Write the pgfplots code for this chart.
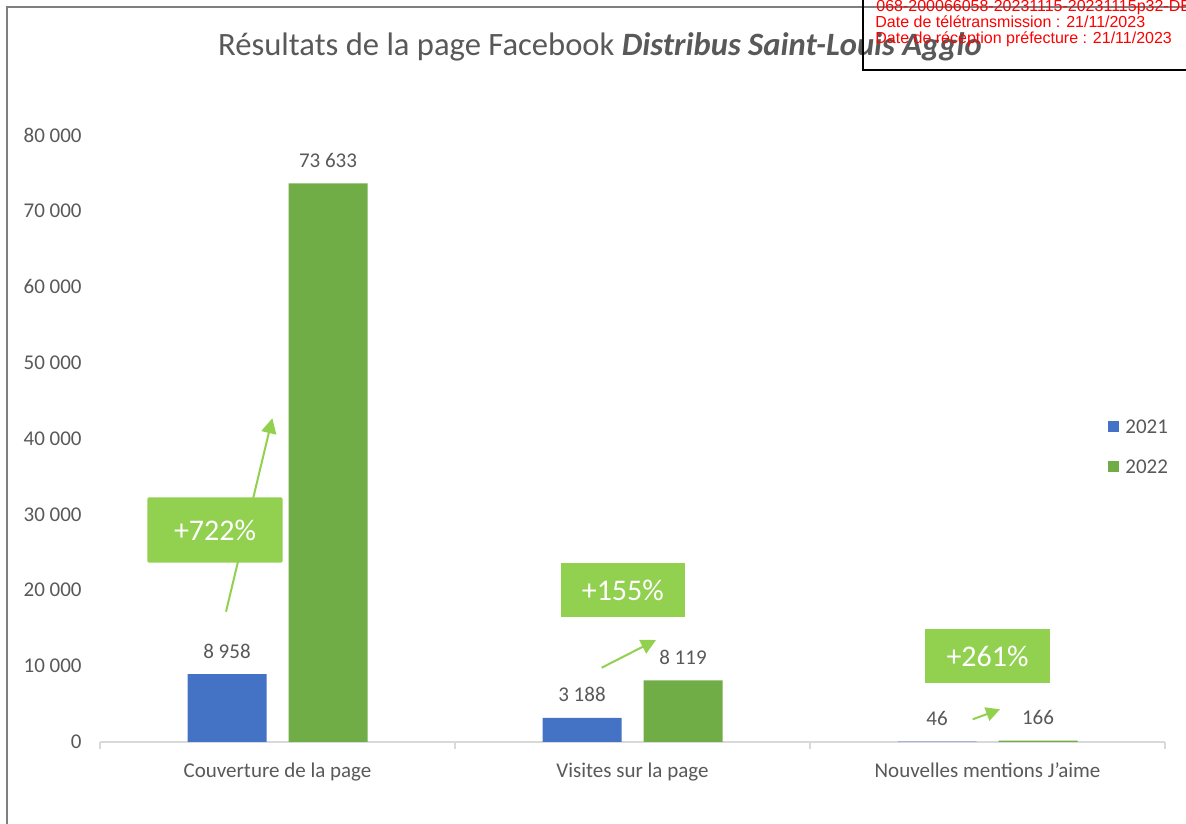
\documentclass[border=0pt]{standalone}
\usepackage{fontspec}
\setmainfont{Carlito}
\newfontfamily\stampfont{Liberation Sans}
\usepackage{pgfplots}
\pgfplotsset{compat=1.18}
\usetikzlibrary{arrows.meta}
\definecolor{c2021}{HTML}{4472C4}
\definecolor{c2022}{HTML}{70AD47}
\definecolor{boxgreen}{HTML}{92D050}
\definecolor{txtgray}{HTML}{595959}
\definecolor{axgray}{HTML}{D9D9D9}
\definecolor{bordergray}{HTML}{7F7F7F}
\definecolor{stampred}{HTML}{FF0000}
\begin{document}
\begin{tikzpicture}
\path[use as bounding box] (0,0) rectangle (593pt,411.5pt);
\fill[white] (0,0) rectangle (593pt,411.5pt);
\node[anchor=base, text=txtgray, font=\fontsize{16.3}{19}\selectfont, inner sep=0pt] at (300pt,383.5pt) {Résultats de la page Facebook \textbf{\textit{Distribus Saint-Louis Agglo}}};
\begin{axis}[
  at={(50pt,40.5pt)}, anchor=south west,
  scale only axis, width=532.5pt, height=303.5pt,
  xmin=-0.5, xmax=2.5, ymin=0, ymax=80000,
  axis x line*=bottom, axis y line*=left,
  y axis line style={draw=none},
  x axis line style={draw=axgray, line width=0.75pt},
  tick align=outside,
  major tick length=0pt,
  minor tick length=3.5pt,
  xtick={0,1,2},
  xticklabels={Couverture de la page, Visites sur la page, Nouvelles mentions J’aime},
  minor xtick={-0.5,0.5,1.5,2.5},
  minor x tick style={draw=axgray, line width=0.75pt},
  ytick={0,10000,...,80000},
  ytick style={draw=none},
  scaled y ticks=false,
  /pgf/number format/1000 sep={\ },
  /pgf/number format/assume math mode=true,
  tick label style={font=\fontsize{10.5}{12}\selectfont, text=txtgray, inner sep=0pt},
  yticklabel style={anchor=east, xshift=-9pt},
  xticklabel style={anchor=base, yshift=-17.5pt},
  nodes near coords,
  nodes near coords style={font=\fontsize{10.5}{12}\selectfont, text=txtgray, anchor=center, inner sep=0pt, yshift=11.5pt},
  legend style={at={(rel axis cs:0.9465,0.487)}, anchor=west, draw=none, fill=none, inner sep=0pt,
    font=\fontsize{10.5}{12}\selectfont, text=txtgray, row sep=13pt,
    nodes={inner sep=0pt, text height=7pt, text depth=0pt},
    /tikz/every odd column/.append style={column sep=3pt}},
  legend cell align=left,
  clip=false,
]
\addplot[ybar, fill=c2021, draw=none, bar width=39.5pt, bar shift=-25.25pt,
  every node near coord/.append style={xshift=-25.25pt},
  legend image code/.code={\fill[c2021] (0pt,-2.75pt) rectangle (5.5pt,2.75pt);}]
  coordinates {(0,8958) (1,3188) (2,46)};
\addplot[ybar, fill=c2022, draw=none, bar width=39.5pt, bar shift=25.25pt,
  every node near coord/.append style={xshift=25.25pt},
  legend image code/.code={\fill[c2022] (0pt,-2.75pt) rectangle (5.5pt,2.75pt);}]
  coordinates {(0,73633) (1,8119) (2,166)};
\legend{2021,2022}
\end{axis}
% annotations
\draw[boxgreen, line width=1pt, -{Triangle[length=7.5pt,width=7.5pt]}] (113pt,105.65pt) -- (136.15pt,202.35pt);
\fill[boxgreen, rounded corners=1pt] (73.65pt,130.15pt) rectangle (141.35pt,162.85pt);
\node[text=white, font=\fontsize{15}{18}\selectfont, inner sep=0pt] at (107.5pt,146.5pt) {+722\%};
\fill[boxgreen] (280.35pt,102.85pt) rectangle (342.5pt,130.15pt);
\node[text=white, font=\fontsize{15}{18}\selectfont, inner sep=0pt] at (311.4pt,116.5pt) {+155\%};
\draw[boxgreen, line width=1pt, -{Triangle[length=7.5pt,width=7.5pt]}] (300.85pt,77.65pt) -- (328pt,91.5pt);
\fill[boxgreen] (462.5pt,69.85pt) rectangle (525pt,97pt);
\node[text=white, font=\fontsize{15}{18}\selectfont, inner sep=0pt] at (493.75pt,83.4pt) {+261\%};
\draw[boxgreen, line width=1pt, -{Triangle[length=7pt,width=7pt]}] (486.35pt,51.85pt) -- (500pt,56.85pt);
% page border
\draw[bordergray, line width=1pt] (3.5pt,-2pt) -- (3.5pt,408pt) -- (600pt,408pt);
% stamp
\draw[black, line width=1pt] (431.3pt,415pt) -- (431.3pt,376.5pt) -- (600pt,376.5pt);
\node[anchor=base west, inner sep=0pt, text=stampred, font=\stampfont\fontsize{8}{8}\selectfont] at (438pt,405.75pt) {068-200066058-20231115-20231115p32-DE};
\node[anchor=base west, inner sep=0pt, text=stampred, font=\stampfont\fontsize{8}{8}\selectfont] at (437.5pt,397.85pt) {Date de télétransmission : 21/11/2023};
\node[anchor=base west, inner sep=0pt, text=stampred, font=\stampfont\fontsize{8}{8}\selectfont] at (437.5pt,389.85pt) {Date de réception préfecture : 21/11/2023};
\end{tikzpicture}
\end{document}
